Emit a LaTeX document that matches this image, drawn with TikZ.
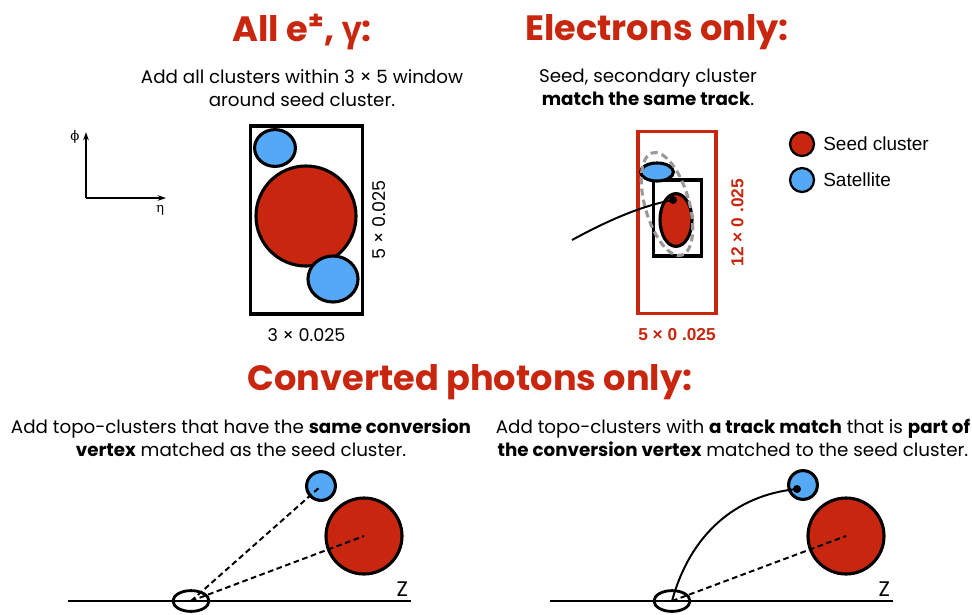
\documentclass[tikz,border=0pt]{standalone}
\usepackage{fontspec}
\usepackage{amsmath}
\setmainfont{Poppins}
\newfontfamily\helv{Liberation Sans}
\newfontfamily\greekfont{Open Sans}
\newfontfamily\serifgreek{DejaVu Serif}
\usetikzlibrary{arrows.meta,shapes,positioning,calc}

\definecolor{seedred}{RGB}{200,38,14}
\definecolor{satblue}{RGB}{85,168,245}

\begin{document}
\begin{tikzpicture}[x=0.025cm, y=-0.025cm,
    title/.style={text=seedred, font=\bfseries\fontsize{25}{30}\selectfont},
    desc/.style={align=center, font=\fontsize{13}{16.4}\selectfont},
    window/.style={rectangle, draw=black, line width=2.2pt},
    seed/.style={circle, draw=black, line width=2.2pt, fill=seedred, inner sep=0pt},
    sat/.style={ellipse, draw=black, line width=2.2pt, fill=satblue, inner sep=0pt},
    vertex/.style={ellipse, draw=black, line width=2pt, minimum width=0.9cm, minimum height=0.52cm},
    dim/.style={font=\fontsize{12.5}{15}\selectfont},
    reddim/.style={text=seedred, font=\helv\bfseries\fontsize{12.3}{14}\selectfont},
    legend/.style={font=\helv\fontsize{13.5}{16}\selectfont, anchor=west},
    axlabel/.style={font=\serifgreek\fontsize{9.5}{12}\selectfont},
    zaxis/.style={line width=1.4pt},
    ray/.style={dashed, line width=1.4pt, dash pattern=on 4pt off 2.5pt},
    track/.style={line width=1.4pt},
    arrow/.style={-{Stealth[length=6pt,width=4pt]}, line width=1.4pt}
]
\useasboundingbox (0,0) rectangle (972,614);

% Titles
\node[title] (titleAll) at (302,32) {All e\textsuperscript{±}, {\greekfont γ}:};
\node[title] (titleEle) at (657,32) {Electrons only:};
\node[title] (titleConv) at (470,382) {Converted photons only:};

% Descriptions
\node[desc] (descAll) at (302,88) {Add all clusters within 3 × 5 window\\around seed cluster.};
\node[desc] (descEle) at (648,87) {Seed, secondary cluster\\\textbf{match the same track}.};
\node[desc] (descVtx) at (241,438) {Add topo-clusters that have the \textbf{same conversion}\\\textbf{vertex} matched as the seed cluster.};
\node[desc] (descTrk) at (733,438) {Add topo-clusters with \textbf{a track match} that is \textbf{part of}\\\textbf{the conversion vertex} matched to the seed cluster.};

% Axes
\coordinate (axO) at (86,198);
\coordinate (axPhi) at (86,132);
\coordinate (axEta) at (166,198);
\draw[arrow] (axO) -- (axPhi);
\draw[arrow] (axO) -- (axEta);
\node[axlabel] (phi) at (75,137) {ϕ};
\node[axlabel] (eta) at (160,210) {η};

% 3 x 5 window
\node[window, minimum width=2.8cm, minimum height=4.7cm] (win) at (306.5,220) {};
\node[sat, minimum width=1.02cm, minimum height=0.92cm] (satTop) at (275,148) {};
\node[seed, minimum size=2.5cm] (seedA) at (306,216) {};
\node[sat, minimum width=1.25cm, minimum height=1.15cm] (satBot) at (333,279) {};
\node[dim, below=0.2cm of win] (winW) {3 × 0.025};
\node[dim, rotate=90, right=0.08cm of win, anchor=north] (winH) {5 × 0.025};

% Electron window
\node[window, draw=seedred, minimum width=1.95cm, minimum height=4.55cm] (eWin) at (677,222.5) {};
\node[window, minimum width=1.2cm, minimum height=1.9cm] (eBox) at (677.5,218) {};
\node[sat, minimum width=0.82cm, minimum height=0.45cm] (satE) at (657,172) {};
\node[seed, ellipse, minimum width=0.8cm, minimum height=1.32cm] (seedE) at (676,220) {};
\draw[black!40, line width=2.2pt, dash pattern=on 5pt off 3pt, rotate around={16:(667,204)}]
    (667,204) ellipse [x radius=0.55cm, y radius=1.33cm];
\coordinate (trkStart) at (572,240);
\node[circle, fill=black, inner sep=0pt, minimum size=0.2cm] (dotE) at (673,200) {};
\draw[track] (trkStart) .. controls (605,222) and (640,206) .. (dotE.center);
\node[reddim, below=0.22cm of eWin] (eWinW) {5 × 0 .025};
\node[reddim, rotate=90, right=0.22cm of eWin, anchor=north] (eWinH) {12 × 0 .025};

% Legend
\node[seed, line width=1.6pt, minimum size=0.6cm] (legSeed) at (802,144) {};
\node[sat, circle, line width=1.6pt, minimum size=0.6cm] (legSat) at (802,180) {};
\node[legend, right=0.08cm of legSeed] (legSeedTxt) {Seed cluster};
\node[legend, right=0.08cm of legSat] (legSatTxt) {Satellite};

% Conversion vertex (left)
\coordinate (zL0) at (68,601);
\coordinate (zL1) at (411,601);
\draw[zaxis] (zL0) -- (zL1);
\node[dim, font=\fontsize{15}{18}\selectfont, above left=0.0cm and -0.05cm of zL1] (zLabL) {Z};
\node[sat, circle, minimum size=0.72cm] (satL) at (321,486) {};
\node[seed, minimum size=1.9cm] (seedL) at (364,536) {};
\node[vertex] (vtxL) at (191,601) {};
\draw[ray] (vtxL.center) -- (satL.center);
\draw[ray] (vtxL.center) -- (seedL.center);

% Track matched to conversion vertex (right)
\coordinate (zR0) at (550,601);
\coordinate (zR1) at (893,601);
\draw[zaxis] (zR0) -- (zR1);
\node[dim, font=\fontsize{15}{18}\selectfont, above left=0.0cm and -0.05cm of zR1] (zLabR) {Z};
\node[sat, circle, minimum size=0.72cm] (satR) at (803,485) {};
\node[seed, minimum size=1.9cm] (seedR) at (846,536) {};
\node[vertex] (vtxR) at (672,601) {};
\node[circle, fill=black, inner sep=0pt, minimum size=0.2cm] (dotR) at (797,489) {};
\draw[track] (vtxR.center) .. controls (690,535) and (735,495) .. (dotR.center);
\draw[ray] (vtxR.center) -- (seedR.center);

\end{tikzpicture}
\end{document}
